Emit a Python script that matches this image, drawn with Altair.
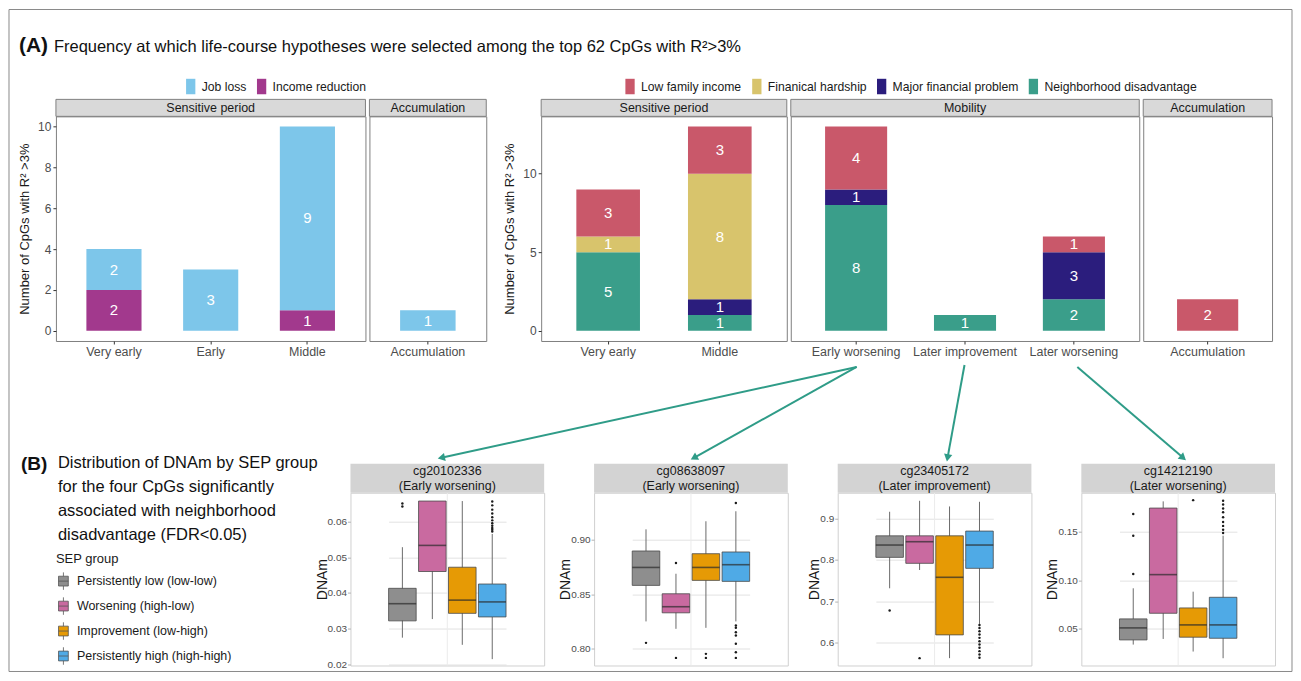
import math
import altair as alt
import pandas as pd

FONT = "Liberation Sans"
NUM_FONT = "Liberation Sans Narrow, Liberation Sans"
TEAL = "#2F9C88"
BORDER = "#8A8A8A"

# ---------------- data ----------------
title_a_tag = "(A)"
title_a = "Frequency at which life-course hypotheses were selected among the top 62 CpGs with R²>3%"
ytitle_a = "Number of CpGs with R² >3%"
title_b_tag = "(B)"
title_b = "Distribution of DNAm by SEP group\nfor the four CpGs significantly\nassociated with neighborhood\ndisadvantage (FDR<0.05)"

# Panel A, left (job loss / income reduction)
a1_cats = ["Very early", "Early", "Middle", "Accumulation"]
a1_facets = ["Sensitive period", "Sensitive period", "Sensitive period", "Accumulation"]
a1_exposures = ["Job loss", "Income reduction"]          # legend order
a1_colors = ["#7DC6EA", "#A2398D"]
a1_stack_order = ["Income reduction", "Job loss"]       # bottom -> top
a1_values = {
    "Income reduction": [2, 0, 1, 0],
    "Job loss": [2, 3, 9, 1],
}

# Panel A, right (family income / hardship / financial problem / neighborhood)
a2_cats = ["Very early", "Middle", "Early worsening", "Later improvement",
           "Later worsening", "Accumulation"]
a2_facets = ["Sensitive period", "Sensitive period", "Mobility", "Mobility",
             "Mobility", "Accumulation"]
a2_exposures = ["Low family income", "Finanical hardship",
                "Major financial problem", "Neighborhood disadvantage"]
a2_colors = ["#C9586A", "#D8C46C", "#2B1D7D", "#3A9E8A"]
a2_stack_order = ["Neighborhood disadvantage", "Major financial problem",
                  "Finanical hardship", "Low family income"]
a2_values = {
    "Neighborhood disadvantage": [5, 1, 8, 1, 2, 0],
    "Major financial problem": [0, 1, 1, 0, 3, 0],
    "Finanical hardship": [1, 8, 0, 0, 0, 0],
    "Low family income": [3, 3, 4, 0, 1, 2],
}

# Panel B (box plot summaries)
sep_groups = ["Persistently low (low-low)", "Worsening (high-low)",
              "Improvement (low-high)", "Persistently high (high-high)"]
sep_colors = ["#8E8E8E", "#C96AA0", "#E69A05", "#4FAAE6"]

cpg_names = ["cg20102336", "cg08638097", "cg23405172", "cg14212190"]
cpg_types = ["(Early worsening)", "(Early worsening)", "(Later improvement)", "(Later worsening)"]

cg1_lo = [0.0275, 0.0327, 0.0255, 0.0215]
cg1_q1 = [0.0322, 0.0460, 0.0343, 0.0333]
cg1_med = [0.0370, 0.0533, 0.0380, 0.0375]
cg1_q3 = [0.0413, 0.0657, 0.0472, 0.0425]
cg1_hi = [0.0528, 0.0657, 0.0657, 0.0565]
cg1_out_g = [0, 0, 3, 3, 3, 3, 3, 3, 3, 3, 3, 3, 3]
cg1_out_v = [0.0642, 0.0650, 0.0572, 0.0577, 0.0582, 0.0588, 0.0595, 0.0603,
             0.0612, 0.0622, 0.0633, 0.0645, 0.0656]

cg2_lo = [0.8252, 0.8184, 0.8193, 0.8252]
cg2_q1 = [0.8583, 0.8331, 0.8629, 0.8620]
cg2_med = [0.8748, 0.8387, 0.8748, 0.8773]
cg2_q3 = [0.8899, 0.8506, 0.8874, 0.8890]
cg2_hi = [0.9098, 0.8690, 0.9172, 0.9264]
cg2_out_g = [0, 1, 1, 2, 2, 3, 3, 3, 3, 3, 3, 3, 3]
cg2_out_v = [0.8055, 0.8788, 0.7917, 0.7954, 0.7917, 0.9340, 0.8215, 0.8193,
             0.8153, 0.8123, 0.8046, 0.7969, 0.7917]

cg3_lo = [0.7315, 0.7756, 0.5631, 0.6457]
cg3_q1 = [0.8061, 0.7917, 0.6192, 0.7796]
cg3_med = [0.8358, 0.8438, 0.7580, 0.8358]
cg3_q3 = [0.8580, 0.8580, 0.8580, 0.8694]
cg3_hi = [0.9160, 0.9424, 0.9288, 0.9400]
cg3_out_g = [0, 1, 3, 3, 3, 3, 3, 3, 3, 3, 3, 3, 3]
cg3_out_v = [0.6778, 0.5631, 0.6430, 0.6360, 0.6280, 0.6200, 0.6120, 0.6040,
             0.5960, 0.5880, 0.5800, 0.5720, 0.5640]

cg4_lo = [0.0335, 0.0393, 0.0263, 0.0194]
cg4_q1 = [0.0383, 0.0658, 0.0411, 0.0400]
cg4_med = [0.0507, 0.1057, 0.0538, 0.0538]
cg4_q3 = [0.0600, 0.1744, 0.0713, 0.0823]
cg4_hi = [0.0916, 0.1813, 0.0881, 0.1459]
cg4_out_g = [0, 0, 0, 2, 3, 3, 3, 3, 3, 3, 3, 3, 3]
cg4_out_v = [0.1064, 0.1459, 0.1682, 0.1826, 0.1486, 0.1520, 0.1560, 0.1600,
             0.1650, 0.1700, 0.1740, 0.1780, 0.1820]

# arrows linking panel A categories to panel B CpGs (page pixel positions)
arrow_x1 = [857, 857, 965, 1078]
arrow_y1 = [366, 366, 364, 366]
arrow_x2 = [441, 694, 948, 1184]
arrow_y2 = [457, 457, 457, 457]

# ---------------- layout constants ----------------
TOTAL_W = 1285
TITLE_H = 107     # page y 8 .. 115
BAR_H = 225       # page y 115 .. 340
ARROW_H = 377     # page y 115 .. 492 (nested rows add no height in a flush stack)
BOX_H = 173       # page y 492 .. 665
BOX_W = 194
STRIP_A = 17
STRIP_B = 29


def no_view():
    return alt.ViewBackground(stroke="transparent")


def spacer(w, h):
    return alt.Chart(alt.Data(values=[])).mark_point().properties(width=w, height=h, view=no_view())


def stacked_frame(cats, facets, order, values):
    rows = []
    for i, c in enumerate(cats):
        base = 0
        for e in order:
            v = values[e][i]
            if v > 0:
                rows.append({"period": c, "facet": facets[i], "exposure": e,
                             "y0": base, "y1": base + v, "ymid": base + v / 2, "count": v})
                base += v
    return pd.DataFrame(rows)


def bar_panel(df, cats, width, strip, ydom, yticks, show_y, cdom, crange, legend):
    x = alt.X("period:N", sort=cats,
              scale=alt.Scale(domain=cats, paddingInner=0.43, paddingOuter=0.315),
              axis=alt.Axis(title=None, labelAngle=0, labelFontSize=12.5, labelColor="#4D4D4D",
                            tickColor="#333333", tickSize=3, domain=False, labelPadding=2))
    if show_y:
        yax = alt.Axis(title=ytitle_a, values=yticks, grid=False, domain=False,
                       tickColor="#333333", tickSize=3, labelFontSize=12, labelColor="#4D4D4D",
                       labelPadding=2, titleFontSize=13, titleFontWeight="normal",
                       titleColor="#1A1A1A", titlePadding=6)
    else:
        yax = None
    ysc = alt.Scale(domain=ydom, nice=False, zero=False)
    base = alt.Chart(df)
    bars = base.mark_bar().encode(
        x=x,
        y=alt.Y("y0:Q", scale=ysc, axis=yax),
        y2="y1:Q",
        color=alt.Color("exposure:N", scale=alt.Scale(domain=cdom, range=crange), legend=legend),
    )
    labels = base.mark_text(color="white", font=NUM_FONT, fontSize=15, baseline="middle").encode(
        x=x, y=alt.Y("ymid:Q", scale=ysc, axis=yax), text="count:Q")
    sdf = pd.DataFrame({"label": [strip]})
    srect = alt.Chart(sdf).mark_rect(fill="#D9D9D9", stroke="#7F7F7F", strokeWidth=1).encode(
        x=alt.value(0), x2=alt.value(width), y=alt.value(-STRIP_A), y2=alt.value(0))
    stext = alt.Chart(sdf).mark_text(fontSize=12.5, color="#1A1A1A", baseline="middle").encode(
        x=alt.value(width / 2), y=alt.value(-STRIP_A / 2), text="label:N")
    return alt.layer(srect, stext, bars, labels).properties(
        width=width, height=BAR_H, view=alt.ViewBackground(stroke="#7F7F7F", strokeWidth=1))


def legend_a(lx):
    return alt.Legend(orient="none", legendX=lx, legendY=-38, direction="horizontal", title=None,
                      symbolType="M-0.6,-1H0.6V1H-0.6Z", symbolSize=240, symbolStrokeWidth=0,
                      labelFontSize=12.2, labelColor="#1A1A1A", columnPadding=7, labelOffset=3)


# ---------- title row (with figure frame) ----------
tdf = pd.DataFrame({"a": [title_a_tag], "b": [title_a]})
t_border = alt.Chart(tdf).mark_rect(fill="transparent", stroke=BORDER, strokeWidth=1).encode(
    x=alt.value(0), x2=alt.value(TOTAL_W), y=alt.value(0), y2=alt.value(663))
t_tag = alt.Chart(tdf).mark_text(fontSize=21, fontWeight="bold", align="left", baseline="middle",
                                 color="#111111").encode(x=alt.value(10), y=alt.value(37), text="a:N")
t_txt = alt.Chart(tdf).mark_text(fontSize=16.5, align="left", baseline="middle",
                                 color="#111111").encode(x=alt.value(45), y=alt.value(38), text="b:N")
title_row = alt.layer(t_border, t_tag, t_txt).properties(width=TOTAL_W, height=TITLE_H, view=no_view())

# ---------- row A ----------
a1 = stacked_frame(a1_cats, a1_facets, a1_stack_order, a1_values)
a2 = stacked_frame(a2_cats, a2_facets, a2_stack_order, a2_values)

a1_s_cats = [c for c, f in zip(a1_cats, a1_facets) if f == "Sensitive period"]
a1_a_cats = [c for c, f in zip(a1_cats, a1_facets) if f == "Accumulation"]
a2_s_cats = [c for c, f in zip(a2_cats, a2_facets) if f == "Sensitive period"]
a2_m_cats = [c for c, f in zip(a2_cats, a2_facets) if f == "Mobility"]
a2_a_cats = [c for c, f in zip(a2_cats, a2_facets) if f == "Accumulation"]

A1S = bar_panel(a1[a1.facet == "Sensitive period"], a1_s_cats, 310, "Sensitive period",
                [-0.5, 10.5], [0, 2, 4, 6, 8, 10], True, a1_exposures, a1_colors, legend_a(127))
A1A = bar_panel(a1[a1.facet == "Accumulation"], a1_a_cats, 117, "Accumulation",
                [-0.5, 10.5], [0, 2, 4, 6, 8, 10], False, a1_exposures, a1_colors, None)
A2S = bar_panel(a2[a2.facet == "Sensitive period"], a2_s_cats, 246, "Sensitive period",
                [-0.65, 13.65], [0, 5, 10], True, a2_exposures, a2_colors, legend_a(81))
A2M = bar_panel(a2[a2.facet == "Mobility"], a2_m_cats, 349, "Mobility",
                [-0.65, 13.65], [0, 5, 10], False, a2_exposures, a2_colors, None)
A2A = bar_panel(a2[a2.facet == "Accumulation"], a2_a_cats, 129, "Accumulation",
                [-0.65, 13.65], [0, 5, 10], False, a2_exposures, a2_colors, None)

row_a = alt.hconcat(spacer(43, BAR_H), A1S, A1A, spacer(47, BAR_H), A2S, A2M, A2A,
                    spacing=4, bounds="flush").resolve_scale(
    color="independent", x="independent", y="independent").resolve_legend(color="independent")

# ---------- arrow layer (spans page y 115 .. 492) ----------
arr = pd.DataFrame({"x1": arrow_x1, "y1": arrow_y1, "x2": arrow_x2, "y2": arrow_y2})
arr["angle"] = [(math.degrees(math.atan2(x2 - x1, -(y2 - y1))) + 360) % 360
                for x1, y1, x2, y2 in zip(arrow_x1, arrow_y1, arrow_x2, arrow_y2)]
axs = alt.Scale(domain=[8, 8 + TOTAL_W], nice=False, zero=False)
ays = alt.Scale(domain=[115, 115 + ARROW_H], nice=False, zero=False, reverse=True)
a_lines = alt.Chart(arr).mark_rule(color=TEAL, strokeWidth=2).encode(
    x=alt.X("x1:Q", scale=axs, axis=None), y=alt.Y("y1:Q", scale=ays, axis=None),
    x2="x2:Q", y2="y2:Q")
a_heads = alt.Chart(arr).mark_point(shape="triangle-up", filled=True, size=70, color=TEAL, opacity=1).encode(
    x=alt.X("x2:Q", scale=axs, axis=None), y=alt.Y("y2:Q", scale=ays, axis=None),
    angle=alt.Angle("angle:Q", scale=None))
arrow_row = alt.layer(a_lines, a_heads).properties(width=TOTAL_W, height=ARROW_H, view=no_view())

# ---------- row B ----------
BOX_PI = 0.08
BOX_STEP = 30
box_width = BOX_STEP * (1 - BOX_PI)
box_span = BOX_STEP * (4 - BOX_PI)
box_range = [BOX_W / 2 - box_span / 2, BOX_W / 2 + box_span / 2]


def box_panel(k, lo, q1, med, q3, hi, out_g, out_v, ydom, yticks, fmt):
    stats = pd.DataFrame({"group": sep_groups, "lo": lo, "q1": q1, "med": med, "q3": q3, "hi": hi})
    outs = pd.DataFrame({"group": [sep_groups[g] for g in out_g], "val": out_v})
    xs = alt.X("group:N", sort=sep_groups,
               scale=alt.Scale(domain=sep_groups, range=box_range, paddingInner=BOX_PI, paddingOuter=0),
               axis=None)
    ysc = alt.Scale(domain=ydom, nice=False, zero=False)
    yax = alt.Axis(title="DNAm", values=yticks, format=fmt, grid=True, gridColor="#E2E2E2",
                   gridWidth=1, domain=False, tickColor="#B3B3B3", tickSize=3,
                   labelFontSize=10, labelColor="#4D4D4D", labelPadding=1,
                   titleFontSize=14, titleFontWeight="normal", titleColor="#1A1A1A", titlePadding=-2)
    sdf = pd.DataFrame({"label": [cpg_names[k] + "\n" + cpg_types[k]]})
    center = alt.Chart(sdf).mark_rule(color="#EBEBEB", strokeWidth=1).encode(
        x=alt.value(BOX_W / 2), y=alt.value(0), y2=alt.value(BOX_H))
    whisk = alt.Chart(stats).mark_rule(color="#6A6A6A", strokeWidth=1).encode(
        x=xs, y=alt.Y("lo:Q", scale=ysc, axis=yax), y2="hi:Q")
    box = alt.Chart(stats).mark_bar(stroke="#4A4A4A", strokeWidth=0.8).encode(
        x=xs, y=alt.Y("q1:Q", scale=ysc, axis=yax), y2="q3:Q",
        color=alt.Color("group:N", scale=alt.Scale(domain=sep_groups, range=sep_colors), legend=None))
    medl = alt.Chart(stats).mark_tick(color="#2B2B2B", thickness=1.6, size=box_width).encode(
        x=xs, y=alt.Y("med:Q", scale=ysc, axis=yax))
    outp = alt.Chart(outs).mark_circle(size=6, color="#1A1A1A", opacity=1).encode(
        x=xs, y=alt.Y("val:Q", scale=ysc, axis=yax))
    srect = alt.Chart(sdf).mark_rect(fill="#D3D3D3").encode(
        x=alt.value(0), x2=alt.value(BOX_W), y=alt.value(-STRIP_B), y2=alt.value(0))
    stext = alt.Chart(sdf).mark_text(fontSize=12.5, color="#1A1A1A", baseline="middle",
                                     lineBreak="\n", lineHeight=15.5).encode(
        x=alt.value(BOX_W / 2), y=alt.value(-22), text="label:N")
    return alt.layer(center, whisk, box, medl, outp, srect, stext).properties(
        width=BOX_W, height=BOX_H, view=alt.ViewBackground(stroke="#D0D0D0", strokeWidth=1))


B1 = box_panel(0, cg1_lo, cg1_q1, cg1_med, cg1_q3, cg1_hi, cg1_out_g, cg1_out_v,
               [0.01972, 0.06802], [0.02, 0.03, 0.04, 0.05, 0.06], ".2f")
B2 = box_panel(1, cg2_lo, cg2_q1, cg2_med, cg2_q3, cg2_hi, cg2_out_g, cg2_out_v,
               [0.7847, 0.9434], [0.80, 0.85, 0.90], ".2f")
B3 = box_panel(2, cg3_lo, cg3_q1, cg3_med, cg3_q3, cg3_hi, cg3_out_g, cg3_out_v,
               [0.5454, 0.9618], [0.6, 0.7, 0.8, 0.9], ".1f")
B4 = box_panel(3, cg4_lo, cg4_q1, cg4_med, cg4_q3, cg4_hi, cg4_out_g, cg4_out_v,
               [0.0119, 0.1902], [0.05, 0.10, 0.15], ".2f")

bdf = pd.DataFrame({"a": [title_b_tag], "b": [title_b]})
b_tag = alt.Chart(bdf).mark_text(fontSize=19, fontWeight="bold", align="left", baseline="top",
                                 color="#111111").encode(x=alt.value(12), y=alt.value(-38), text="a:N")
b_txt = alt.Chart(bdf).mark_text(fontSize=16.5, align="left", baseline="top", lineBreak="\n",
                                 lineHeight=24, color="#111111").encode(
    x=alt.value(49), y=alt.value(-38), text="b:N")
b_leg = alt.Chart(pd.DataFrame({"group": sep_groups})).mark_rect().encode(
    x=alt.value(0), x2=alt.value(0), y=alt.value(0), y2=alt.value(0),
    color=alt.Color("group:N", scale=alt.Scale(domain=sep_groups, range=sep_colors),
                    legend=alt.Legend(orient="none", legendX=47, legendY=60, title="SEP group",
                                      titleFontSize=13, titleFontWeight="normal", titleColor="#1A1A1A",
                                      titlePadding=8,
                                      symbolType="M-0.7,-0.7H0.7V0.7H-0.7Z M0,-0.7V-1.25 M0,0.7V1.25 M-0.7,0H0.7",
                                      symbolSize=196, symbolStrokeColor="#555555", symbolStrokeWidth=0.8,
                                      labelFontSize=12.5, labelColor="#1A1A1A", labelOffset=6,
                                      rowPadding=4)))
b_text_chart = alt.layer(b_tag, b_txt, b_leg).properties(width=292, height=BOX_H, view=no_view())

row_b = alt.hconcat(b_text_chart, B1, B2, B3, B4, spacing=50, bounds="flush").resolve_scale(
    color="independent", x="independent", y="independent").resolve_legend(color="independent")

chart = alt.vconcat(title_row, row_a, arrow_row, row_b, spacing=0, bounds="flush").resolve_scale(
    color="independent", x="independent", y="independent").resolve_legend(
    color="independent").properties(padding=0).configure(font=FONT).configure_view(stroke="transparent")

chart.save("out.html", embed_options={"renderer": "svg", "actions": False})
